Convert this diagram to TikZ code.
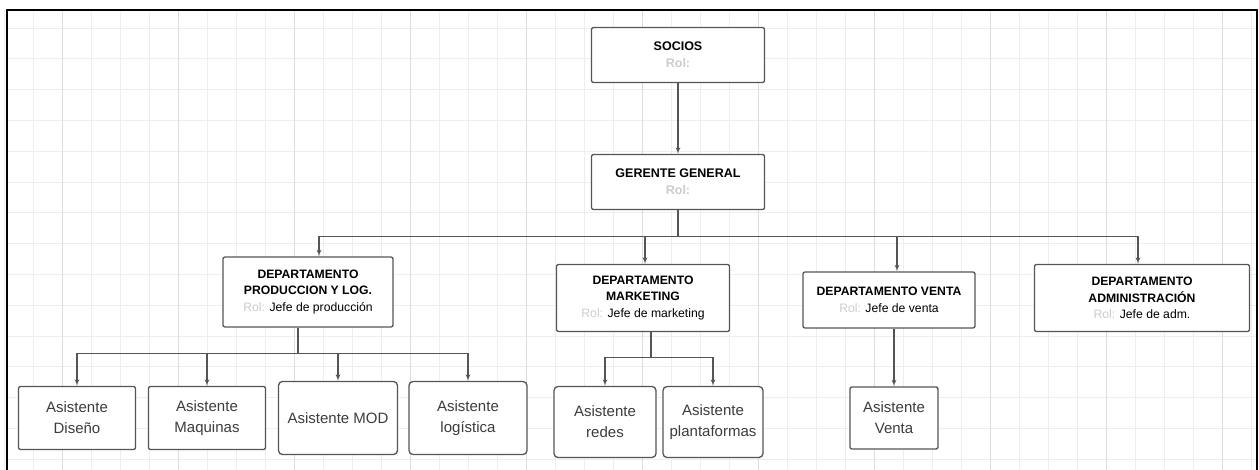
\documentclass[tikz,border=0pt]{standalone}
\usepackage{fontspec}
\setmainfont{Liberation Sans}
\usetikzlibrary{arrows}
\definecolor{linegray}{HTML}{555555}
\definecolor{gridminor}{HTML}{EEEEEE}
\definecolor{gridmajor}{HTML}{DDDDDD}
\definecolor{txtgray}{HTML}{3C3C3C}
\newcommand{\rol}[1]{{\color{gray!40}Rol:} #1}

\begin{document}
\begin{tikzpicture}
			[x=1pt,y=-1pt,
			box/.style={draw=linegray,line width=1.3pt,fill=white,rounded corners=2pt,align=center,inner sep=2pt},
			head/.style={font=\bfseries\fontsize{12.5}{17}\selectfont},
			dept/.style={font=\fontsize{12.2}{16.5}\selectfont},
			asis/.style={font=\fontsize{15}{21}\selectfont,text=txtgray},
			edge/.style={->,> = latex',draw=linegray,line width=1.2pt}]
			\useasboundingbox (0,0) rectangle (1259,470);
			
			% background grid
			\foreach \x in {4,33,...,1256} \draw[gridminor,line width=0.8pt] (\x,10) -- (\x,470);
			\foreach \y in {28,58.8,...,470} \draw[gridminor,line width=0.8pt] (7,\y) -- (1257,\y);
			\foreach \x in {62,178,...,1256} \draw[gridmajor,line width=1pt] (\x,10) -- (\x,470);
			\draw[line width=2pt] (7,475) -- (7,10) -- (1257,10) -- (1257,475);
			
			\node[box,head,minimum width=173,minimum height=55] (socios) at (678,55) {SOCIOS\\\rol{}};
			\node[box,head,minimum width=173,minimum height=55] (gerente) at (678,182) {GERENTE GENERAL\\\rol{}};
			
			\node[box,dept,minimum width=170,minimum height=70] (prod) at (308,292) {\textbf{DEPARTAMENTO}\\\textbf{PRODUCCION Y LOG.}\\\rol{Jefe de producción}};
			\node[box,dept,minimum width=173,minimum height=67] (mark) at (643,298) {\textbf{DEPARTAMENTO}\\\textbf{MARKETING}\\\rol{Jefe de marketing}};
			\node[box,dept,minimum width=172,minimum height=56] (venta) at (889,300) {\textbf{DEPARTAMENTO VENTA}\\\rol{Jefe de venta}};
			\node[box,dept,minimum width=215,minimum height=67] (admin) at (1142,298) {\textbf{DEPARTAMENTO}\\\textbf{ADMINISTRACIÓN}\\\rol{Jefe de adm.}};
			
			\node[box,asis,minimum width=117,minimum height=63] (diseno) at (77,418) {Asistente\\Diseño};
			\node[box,asis,minimum width=117,minimum height=63] (maq) at (207,418) {Asistente\\Maquinas};
			\node[box,asis,minimum width=119,minimum height=73,rounded corners=4pt] (mod) at (338,418) {Asistente MOD};
			\node[box,asis,minimum width=118,minimum height=73,rounded corners=4pt] (logi) at (468,418) {Asistente\\logística};
			\node[box,asis,minimum width=102,minimum height=71,rounded corners=4pt] (redes) at (605,422) {Asistente\\redes};
			\node[box,asis,minimum width=100,minimum height=71,rounded corners=4pt] (plata) at (713,422) {Asistente\\plantaformas};
			\node[box,asis,minimum width=88,minimum height=62] (aventa) at (894,418) {Asistente\\Venta};
			
			\draw[edge] (socios) -- (gerente);
			\draw[edge] (gerente.south) -- ++(0,26) -| ([xshift=11]prod.north);
			\draw[edge] (gerente.south) -- ++(0,26) -| ([xshift=2]mark.north);
			\draw[edge] (gerente.south) -- ++(0,26) -| ([xshift=8]venta.north);
			\draw[edge] (gerente.south) -- ++(0,26) -| ([xshift=-4]admin.north);
			
			\draw[edge] ([xshift=-10]prod.south) -- ++(0,26) -| (diseno.north);
			\draw[edge] ([xshift=-10]prod.south) -- ++(0,26) -| (maq.north);
			\draw[edge] ([xshift=-10]prod.south) -- ++(0,26) -| (mod.north);
			\draw[edge] ([xshift=-10]prod.south) -- ++(0,26) -| (logi.north);
			\draw[edge] ([xshift=8]mark.south) -- ++(0,25) -| (redes.north);
			\draw[edge] ([xshift=8]mark.south) -- ++(0,25) -| (plata.north);
			\draw[edge] ([xshift=5]venta.south) -- (aventa.north);
			
			\end{tikzpicture}
\end{document}
